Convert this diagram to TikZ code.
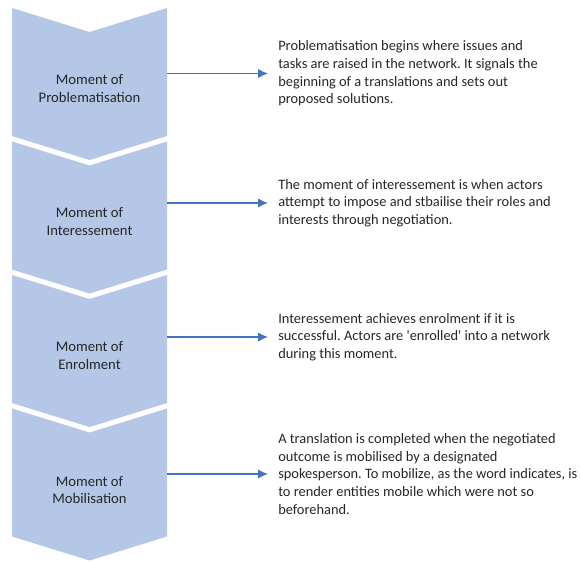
\documentclass[tikz,border=0pt]{standalone}
\usepackage{fontspec}
\setmainfont{Carlito}
\usetikzlibrary{arrows.meta}
\definecolor{chevblue}{HTML}{B4C7E7}
\definecolor{linkblue}{HTML}{4472C4}
\definecolor{textgray}{HTML}{262626}
\frenchspacing

\begin{document}
\begin{tikzpicture}[>={Latex[length=7.5pt,width=7pt]},x=0.75pt,y=-0.75pt,
  moment/.style={align=center,minimum width=116.25pt,inner sep=0pt,text=textgray,font=\fontsize{11}{13.2}\selectfont},
  note/.style={anchor=west,align=left,inner xsep=7.5pt,inner ysep=0pt,text=textgray,font=\fontsize{10.8}{13.2}\selectfont},
  link/.style={->,color=linkblue,line width=1pt}]

\useasboundingbox (0,0) rectangle (580,563);

\fill[color=chevblue] (12,8) -- (89.5,32) -- (167,8) -- (167,136) -- (89.5,160) -- (12,136) -- cycle;
\fill[color=chevblue] (12,141.5) -- (89.5,165.5) -- (167,141.5) -- (167,269.5) -- (89.5,293.5) -- (12,269.5) -- cycle;
\fill[color=chevblue] (12,275) -- (89.5,299) -- (167,275) -- (167,403) -- (89.5,427) -- (12,403) -- cycle;
\fill[color=chevblue] (12,408.5) -- (89.5,432.5) -- (167,408.5) -- (167,536.5) -- (89.5,560.5) -- (12,536.5) -- cycle;

\node[moment] (chev1) at (89.5,88.5) {Moment of\\Problematisation};
\node[moment] (chev2) at (89.5,221.5) {Moment of\\Interessement};
\node[moment] (chev3) at (89.5,355.5) {Moment of\\Enrolment};
\node[moment] (chev4) at (89.5,490) {Moment of\\Mobilisation};

\node[note] (desc1) at (268,73.5) {Problematisation begins where issues and\\tasks are raised in the network. It signals the\\beginning of a translations and sets out\\proposed solutions.};
\node[note] (desc2) at (268,203) {The moment of interessement is when actors\\attempt to impose and stbailise their roles and\\interests through negotiation.};
\node[note] (desc3) at (268,337) {Interessement achieves enrolment if it is\\successful. Actors are \textquotesingle enrolled\textquotesingle{} into a network\\during this moment.};
\node[note] (desc4) at (268,474) {A translation is completed when the negotiated\\outcome is mobilised by a designated\\spokesperson. To mobilize, as the word indicates, is\\to render entities mobile which were not so\\beforehand.};

\draw[link] (chev1.east |- desc1.west) -- (desc1.west);
\draw[link] (chev2.east |- desc2.west) -- (desc2.west);
\draw[link] (chev3.east |- desc3.west) -- (desc3.west);
\draw[link] (chev4.east |- desc4.west) -- (desc4.west);

\end{tikzpicture}
\end{document}
